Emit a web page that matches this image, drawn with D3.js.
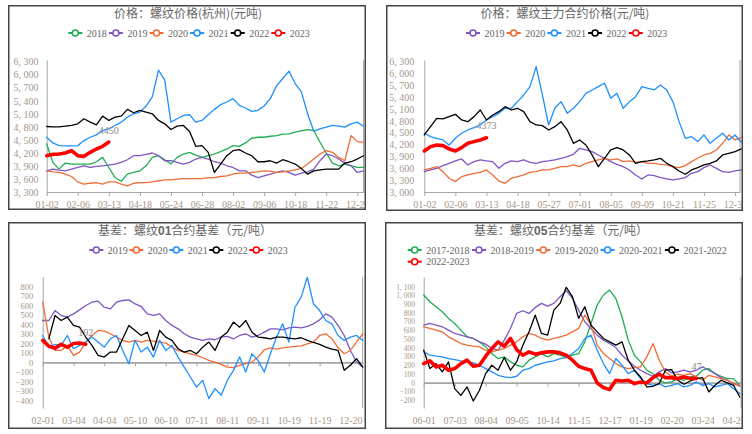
<!DOCTYPE html>
<html lang="zh">
<head>
<meta charset="UTF-8">
<title>螺纹价格与基差</title>
<style>
  body { margin: 0; background: #fff; }
  svg text { font-family: "Liberation Serif", "Times New Roman", serif; }
  .title { font-family: "Noto Sans CJK SC", sans-serif; font-size: 12px; fill: #666; }
  .axis path, .axis line { stroke: #a6a6a6; }
</style>
</head>
<body>
<svg id="chart" width="752" height="434"></svg>
<script src="https://d3js.org/d3.v7.min.js"></script>
<script>
// ---- data (values sampled every 5 trading days) ----
const hzDates = ['01-02', '02-06', '03-13', '04-18', '05-24', '06-28', '08-02', '09-06', '10-18', '11-22', '12-27']
const hzYears = ['2018', '2019', '2020', '2021', '2022', '2023']
const hz2018 = [4406, 3981, 3827, 3966, 3943, 3943, 3943, 3943, 3997, 4097, 3865, 3633, 3548, 3711, 3750, 3788, 3904, 4097, 4136, 4043, 3943, 4097, 4175, 4213, 4151, 4097, 4136, 4175, 4229, 4291, 4368, 4352, 4430, 4538, 4561, 4561, 4584, 4600, 4631, 4638, 4677, 4708, 4739, 4716, 4445, 4198, 3966, 3904, 3943, 3904, 3865, 3865]
const hz2019 = [3788, 3827, 3804, 3788, 3827, 3865, 3904, 3865, 3889, 3904, 3920, 3943, 3981, 4043, 4136, 4136, 4167, 4198, 4136, 4020, 4020, 3981, 3943, 3981, 4059, 4097, 4059, 3997, 3966, 3904, 3865, 3788, 3788, 3688, 3633, 3672, 3711, 3750, 3788, 3750, 3688, 3734, 3765, 3827, 4020, 4175, 4136, 4059, 3966, 3904, 3750, 3788]
const hz2020 = [3788, 3765, 3750, 3711, 3657, 3533, 3479, 3502, 3517, 3479, 3533, 3533, 3479, 3440, 3502, 3517, 3517, 3533, 3556, 3579, 3579, 3595, 3610, 3610, 3610, 3610, 3633, 3633, 3657, 3672, 3711, 3734, 3734, 3750, 3765, 3788, 3780, 3750, 3765, 3788, 3811, 3842, 3943, 4059, 4175, 4252, 4213, 4097, 4020, 4600, 4460, 4445]
const hz2021 = [4561, 4430, 4368, 4360, 4360, 4368, 4484, 4561, 4615, 4716, 4755, 4832, 4909, 5025, 5102, 5141, 5280, 5489, 6107, 5875, 4909, 4986, 5064, 5079, 4909, 4948, 5079, 5203, 5311, 5373, 5450, 5296, 5234, 5156, 5180, 5280, 5450, 5744, 5914, 6084, 5798, 5605, 5102, 4700, 4755, 4793, 4832, 4816, 4793, 4870, 4909, 4816]
const hz2022 = [4808, 4801, 4801, 4816, 4832, 4870, 4986, 4909, 4847, 5048, 4948, 5025, 5048, 5203, 5125, 5180, 5141, 5102, 4948, 4870, 4739, 4816, 4832, 4693, 4352, 4368, 4213, 3750, 3943, 4136, 4252, 4275, 4198, 4136, 3997, 3997, 4020, 3966, 4043, 3997, 3943, 3842, 3711, 3788, 3811, 3827, 3827, 3827, 3966, 3997, 4059, 4136]
const hz2023 = [4136, 4167, 4175, 4198, 4252, 4136, 4121, 4213, 4291, 4352, 4450]

const futDates = ['01-02', '02-06', '03-13', '04-18', '05-27', '07-01', '08-05', '09-09', '10-21', '11-25', '12-30']
const futYears = ['2019', '2020', '2021', '2022', '2023']
const fut2019 = [3516, 3558, 3600, 3668, 3727, 3786, 3837, 3685, 3769, 3811, 3786, 3769, 3600, 3727, 3786, 3769, 3811, 3752, 3727, 3769, 3786, 3811, 3854, 3896, 3955, 4107, 4065, 4022, 3938, 3854, 3769, 3702, 3643, 3558, 3432, 3330, 3432, 3415, 3364, 3330, 3305, 3330, 3364, 3474, 3516, 3617, 3685, 3600, 3516, 3499, 3533, 3558]
const fut2020 = [3558, 3600, 3643, 3516, 3347, 3263, 3389, 3432, 3474, 3499, 3558, 3432, 3280, 3221, 3347, 3389, 3432, 3499, 3516, 3558, 3558, 3600, 3643, 3643, 3685, 3643, 3727, 3769, 3811, 3854, 3811, 3837, 3769, 3786, 3752, 3769, 3727, 3727, 3702, 3685, 3643, 3617, 3668, 3769, 3854, 3938, 3980, 4065, 4233, 4444, 4318, 4377]
const fut2021 = [4487, 4402, 4360, 4318, 4191, 4360, 4487, 4571, 4630, 4698, 4824, 4909, 4993, 5120, 5120, 5288, 5457, 5668, 6175, 5457, 4698, 5120, 5288, 4993, 5120, 5288, 5499, 5584, 5668, 5753, 5373, 5499, 5120, 5288, 5415, 5668, 5626, 5584, 5710, 5584, 5288, 4782, 4360, 4402, 4276, 4444, 4233, 4360, 4487, 4318, 4444, 4259]
const fut2022 = [4444, 4655, 4866, 4850, 4909, 4968, 4824, 4782, 4909, 5077, 4824, 4951, 5035, 5162, 5077, 5120, 5035, 4782, 4698, 4681, 4571, 4655, 4782, 4571, 4233, 4318, 4191, 3938, 3643, 3854, 4065, 4124, 4065, 3938, 3727, 3769, 3786, 3811, 3854, 3727, 3643, 3533, 3449, 3558, 3617, 3685, 3727, 3786, 3938, 3980, 4022, 4090]
const fut2023 = [4039, 4149, 4191, 4174, 4090, 4039, 4124, 4233, 4276, 4318, 4373]

const b01Dates = ['02-01', '03-04', '04-04', '05-10', '06-10', '07-11', '08-11', '09-11', '10-19', '11-19', '12-20']
const b01Years = ['2019', '2020', '2021', '2022', '2023']
const b01_2019 = [442, 442, 547, 495, 477, 512, 554, 600, 635, 646, 582, 565, 635, 653, 660, 618, 590, 512, 495, 512, 442, 390, 354, 302, 267, 249, 232, 249, 239, 267, 274, 249, 284, 302, 267, 284, 319, 354, 354, 344, 365, 372, 365, 379, 407, 449, 512, 477, 390, 284, 126, 4, -49]
const b01_2020 = [635, 267, 126, 126, 179, 74, 109, 214, 284, 337, 330, 302, 267, 232, 214, 232, 214, 232, 225, 214, 204, 161, 126, 109, 91, 74, 49, 21, 4, -21, -49, -56, -32, -14, 4, 56, 133, 154, 140, 154, 161, 168, 175, 196, 214, 284, 302, 249, 154, 91, 126, 214, 302]
const b01_2021 = [284, 161, 189, 179, 284, 144, 179, 214, 267, 214, 161, 249, 284, 126, -14, 232, 109, 161, 56, 232, 126, 179, 56, -49, -154, -260, -190, -382, -277, -347, -190, -84, 56, -102, 91, 21, -102, 91, 267, 407, 214, 582, 688, 898, 618, 547, 442, 407, 284, 232, 267, 284, 232]
const b01_2022 = [null, 249, 495, 442, 477, 390, 372, 267, 179, 74, 56, 109, 109, 249, 390, 337, 284, 319, 126, 337, 267, 232, 144, 109, 126, 91, 161, 214, 126, 267, 319, 425, 372, 442, 319, 267, 260, 249, 267, 267, 255, 249, 260, 232, 210, 190, 161, 140, 126, -84, -30, 40, -49]
const b01_2023 = [232, 170, 150, 190, 160, 200, 205, 192]

const b05Dates = ['06-01', '07-03', '08-04', '09-05', '10-14', '11-15', '12-17', '01-19', '02-20', '03-24', '04-25']
const b05Years = ['2017-2018', '2018-2019', '2019-2020', '2020-2021', '2021-2022', '2022-2023']
const b05_1718 = [1004, 927, 870, 812, 736, 678, 601, 525, 506, 467, 410, 333, 276, 295, 238, 199, 180, 257, 295, 333, 295, 333, 314, 287, 314, 333, 467, 678, 889, 1004, 1061, 965, 755, 487, 314, 238, 142, 103, 27, -4, 8, 46, 27, 65, 73, 142, 161, 103, 73, 46, 46, -31]
const b05_1819 = [659, 678, 659, 640, 601, 563, 544, 525, 506, 467, 441, 391, 371, 487, 621, 793, 824, 793, 862, 908, 877, 908, 985, 1054, 965, 831, 697, 621, 544, 487, 448, 402, 314, 249, 188, 142, 103, 73, 123, 161, 111, 123, 142, 123, 142, 180, 142, 103, 57, 27, -11, -42]
const b05_1920 = [640, 621, 601, 582, 525, 487, 448, 429, 418, 410, 371, 352, 371, 391, 429, 467, 525, 563, 544, 506, 487, 506, 525, 544, 582, 621, 774, 659, 429, 333, 276, 218, 180, 161, 172, 180, 295, 448, 257, 123, 73, 96, 84, 103, 65, 27, 84, 65, 46, 27, -11, -31]
const b05_2021 = [352, 314, 303, 295, 276, 264, 249, 238, 226, 199, 161, 123, 84, 65, 57, 73, 142, 161, 199, 218, 238, 249, 276, 287, 333, 391, 506, 544, 371, 218, 103, 276, 199, 103, 142, 46, -11, -31, -11, -50, -31, -11, -50, -31, 8, -31, -11, -50, -31, -11, -69, -126]
const b05_2122 = [372, 161, 218, 123, 238, -69, -146, -50, -211, -88, 103, 199, 142, 287, 142, 238, 429, 582, 774, 563, 544, 831, 908, 1092, 985, 736, 870, 659, 582, 506, 467, 429, 467, 257, 142, 65, -50, -42, -11, 142, 149, 27, -19, 19, 46, 57, -107, -31, 27, -4, -31, -165]
const b05_2223 = [218, 249, 180, 199, 142, 161, 218, 257, 188, 199, 303, 391, 467, 418, 506, 379, 314, 352, 326, 341, 352, 352, 341, 314, 257, 188, 161, 142, -4, -57, -80, 27, 19, 27, -11, 8, -4, 57, 96, 57, 57, 46, 65, 46, 47]

const STEP = 5
const colors = ['#1fae51', '#7f55c4', '#ef6c35', '#1e90ff', '#000000', '#ff0000']
const labelColor = '#a8968a'

const svg = d3.select('#chart')
const fmt = v => d3.format(',')(v).replace(',', ', ')

function drawPanel (p) {
  const [bx, by, bw, bh] = p.box
  svg.append('clipPath').attr('id', 'clip' + p.id)
    .append('rect').attr('x', bx).attr('y', by).attr('width', bw).attr('height', bh)
  const g = svg.append('g').attr('clip-path', 'url(#clip' + p.id + ')')

  // 标题
  const t = g.append('text').attr('class', 'title')
    .attr('x', p.titleX).attr('y', by + 13).attr('text-anchor', 'middle')
  p.title.forEach((s, i) => {
    const ts = t.append('tspan').text(s)
    if (p.boldPart === i) ts.style('font-weight', 'bold').style('font-family', '"Liberation Sans", Arial, sans-serif')
  })

  // 图例
  p.names.forEach((n, i) => {
    const row = Math.floor(i / p.perRow)
    const col = i % p.perRow
    const lx = p.legendX + col * p.legendW
    const ly = by + 28 + row * 11.7
    const c = colors[p.colorIdx[i]]
    g.append('line').attr('x1', lx).attr('x2', lx + 14).attr('y1', ly).attr('y2', ly)
      .style('stroke', c).style('stroke-width', 2)
    g.append('circle').attr('cx', lx + 7).attr('cy', ly).attr('r', 3)
      .style('fill', '#fff').style('stroke', c).style('stroke-width', 1.6)
    g.append('text').attr('x', lx + 18.5).attr('y', ly + 3.5).text(n)
      .style('font-size', '10px').style('fill', '#666')
  })

  const x = d3.scaleLinear().domain([0, p.days]).range([p.x0, p.x1])
  const y = d3.scaleLinear().domain(p.yDomain).range([p.yBottom, p.yTop])
  const ticks = d3.range(0, 251, 25)

  // 左轴
  g.append('g').attr('class', 'axis').attr('transform', `translate(${p.x0},0)`)
    .call(d3.axisLeft(y).tickValues(p.yTicks).tickSize(0).tickPadding(p.yPad).tickFormat(fmt))
    .call(a => a.selectAll('text').style('font-size', p.yFont + 'px').style('fill', labelColor).style('font-family', '"Liberation Serif", serif'))
  // 右侧竖线
  g.append('line').attr('x1', p.x1).attr('x2', p.x1).attr('y1', p.yTop).attr('y2', p.yBottom)
    .style('stroke', '#a6a6a6')

  // 横轴（线）
  const axisY = p.zeroAxis ? y(0) : p.yBottom
  g.append('g').attr('class', 'axis').attr('transform', `translate(0,${axisY})`)
    .call(d3.axisBottom(x).tickValues(ticks).tickSize(4).tickSizeOuter(0).tickFormat(''))
    .call(a => a.select('.domain').style('stroke-width', p.zeroAxis ? 1.6 : 1))
  // 横轴标签
  g.append('g').attr('transform', `translate(0,${p.labelY})`)
    .call(d3.axisBottom(x).tickValues(ticks).tickSize(0).tickPadding(0).tickFormat((d, i) => p.dates[i]))
    .call(a => a.select('.domain').remove())
    .call(a => a.selectAll('text').style('font-size', '10px').style('fill', labelColor).style('font-family', '"Liberation Serif", serif'))

  // 折线
  const line = d3.line().defined(d => d != null)
    .x((d, i) => x(i * STEP)).y(d => y(d))
  p.series.forEach((s, i) => {
    const last = i === p.series.length - 1
    g.append('path').datum(s).attr('d', line)
      .style('fill', 'none').style('stroke', colors[p.colorIdx[i]])
      .style('stroke-width', last ? 3.6 : 1.3).style('stroke-linejoin', 'round').style('stroke-linecap', 'round')
  })
  // 最新值标签
  const cur = p.series[p.series.length - 1]
  const li = cur.length - 1
  g.append('text').attr('x', x(li * STEP)).attr('y', y(cur[li]) - 8.5)
    .attr('text-anchor', 'middle').text(cur[li])
    .style('font-size', '10px').style('fill', '#8c8c8c')

  // 边框
  g.append('rect').attr('x', bx + 0.75).attr('y', by + 0.75).attr('width', bw - 1.5).attr('height', bh - 1.5)
    .style('fill', 'none').style('stroke', '#454545').style('stroke-width', 1.5)
}

drawPanel({
  id: 1, box: [8, 5, 358, 205], titleX: 188, title: ['价格：螺纹价格(杭州)(元吨)'],
  names: hzYears, colorIdx: [0, 1, 2, 3, 4, 5], perRow: 6, legendX: 68.3, legendW: 40.6,
  series: [hz2018, hz2019, hz2020, hz2021, hz2022, hz2023],
  x0: 46.7, x1: 363.5, days: 255, yDomain: [3300, 6340], yBottom: 192, yTop: 60,
  yTicks: d3.range(3300, 6301, 300), yPad: 8.2, yFont: 10, labelY: 201, dates: hzDates, zeroAxis: false
})
drawPanel({
  id: 2, box: [386, 5, 357, 206], titleX: 565, title: ['价格：螺纹主力合约价格(元/吨)'],
  names: futYears, colorIdx: [1, 2, 3, 4, 5], perRow: 6, legendX: 466, legendW: 40.7,
  series: [fut2019, fut2020, fut2021, fut2022, fut2023],
  x0: 424.3, x1: 740, days: 254, yDomain: [3000, 6343], yBottom: 192, yTop: 60,
  yTicks: d3.range(3000, 6301, 300), yPad: 10, yFont: 10, labelY: 201, dates: futDates, zeroAxis: false
})
drawPanel({
  id: 3, box: [8, 222, 358, 207], titleX: 185, title: ['基差：螺纹', '01', '合约基差（元/吨）'], boldPart: 1,
  names: b01Years, colorIdx: [1, 2, 3, 4, 5], perRow: 6, legendX: 89.3, legendW: 40,
  series: [b01_2019, b01_2020, b01_2021, b01_2022, b01_2023],
  x0: 42.7, x1: 362.7, days: 260, yDomain: [-481, 904], yBottom: 408, yTop: 276.7,
  yTicks: d3.range(-400, 801, 100), yPad: 9.4, yFont: 8.5, labelY: 417, dates: b01Dates, zeroAxis: true
})
drawPanel({
  id: 4, box: [385, 222, 358, 207], titleX: 561, title: ['基差：螺纹', '05', '合约基差（元/吨）'], boldPart: 1,
  names: b05Years, colorIdx: [0, 1, 2, 3, 4, 5], perRow: 5, legendX: 407.7, legendW: 64.3,
  series: [b05_1718, b05_1819, b05_1920, b05_2021, b05_2122, b05_2223],
  x0: 423.7, x1: 741, days: 256, yDomain: [-291, 1214], yBottom: 408, yTop: 276.7,
  yTicks: d3.range(-200, 1101, 100), yPad: 8.7, yFont: 7.5, labelY: 417, dates: b05Dates, zeroAxis: true
})
</script>
</body>
</html>
